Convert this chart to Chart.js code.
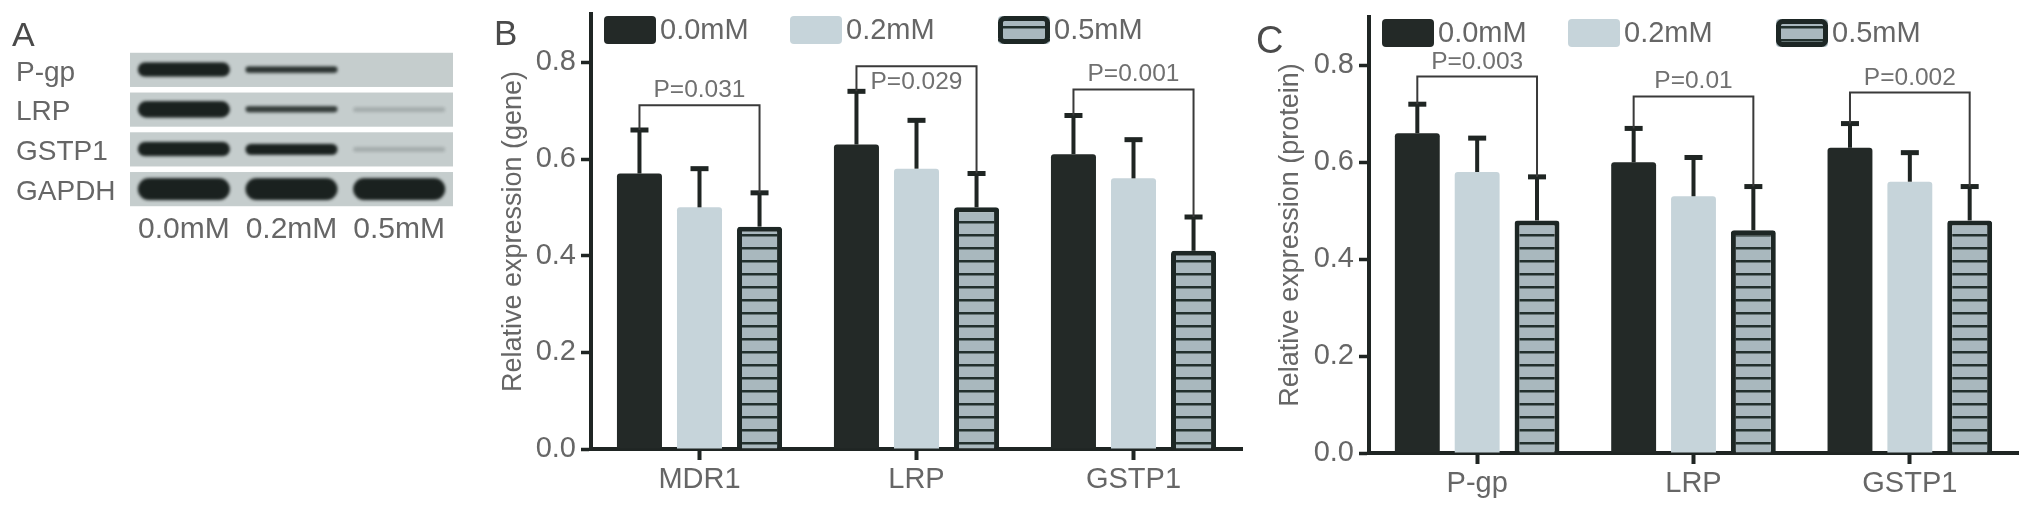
<!DOCTYPE html>
<html>
<head>
<meta charset="utf-8">
<title>Relative expression of MDR1 / P-gp, LRP and GSTP1</title>
<script src="https://cdn.jsdelivr.net/npm/chart.js@4.4.1/dist/chart.umd.min.js"></script>
<style>
    html, body { margin: 0; padding: 0; background: #fff; }
    body { width: 2031px; height: 508px; position: relative; overflow: hidden; font-family: "Liberation Sans", Arial, sans-serif; }
    .panel { position: absolute; top: 0; }
    .letter { position: absolute; color: #4a4a4a; line-height: 1; }
</style>
</head>
<body>
<div class="panel" style="left:0; width:470px; height:260px;"><canvas id="blotChart"></canvas></div>
<div class="panel" style="left:470px; width:780px; height:508px;"><canvas id="geneChart"></canvas></div>
<div class="panel" style="left:1250px; width:781px; height:508px;"><canvas id="proteinChart"></canvas></div>
<div class="letter" style="left:12px; top:17px; font-size:34px;">A</div>
<div class="letter" style="left:494px; top:15px; font-size:35px;">B</div>
<div class="letter" style="left:1256px; top:21px; font-size:38px;">C</div>

<script>
// ---- data ----
const doses = ['0.0mM', '0.2mM', '0.5mM'];

// panel A: western blot, band strength per lane (0 = no band)
const blotRows = ['P-gp', 'LRP', 'GSTP1', 'GAPDH'];
const bandPgp = [0.65, 0.3, 0];
const bandLrp = [0.75, 0.28, 0.06];
const bandGstp1 = [0.65, 0.5, 0.06];
const bandGapdh = [1, 1, 1];

// panel B: mRNA
const geneLabels = ['MDR1', 'LRP', 'GSTP1'];
const gene00 = [0.57, 0.63, 0.61];
const gene02 = [0.50, 0.58, 0.56];
const gene05 = [0.46, 0.50, 0.41];
const gene00Sd = [0.09, 0.11, 0.08];
const gene02Sd = [0.08, 0.10, 0.08];
const gene05Sd = [0.07, 0.07, 0.07];
const geneP = ['P=0.031', 'P=0.029', 'P=0.001'];
const geneBracket = [0.711, 0.792, 0.744];

// panel C: protein
const proteinLabels = ['P-gp', 'LRP', 'GSTP1'];
const protein00 = [0.66, 0.60, 0.63];
const protein02 = [0.58, 0.53, 0.56];
const protein05 = [0.48, 0.46, 0.48];
const protein00Sd = [0.06, 0.07, 0.05];
const protein02Sd = [0.07, 0.08, 0.06];
const protein05Sd = [0.09, 0.09, 0.07];
const proteinP = ['P=0.003', 'P=0.01', 'P=0.002'];
const proteinBracket = [0.777, 0.736, 0.744];

const yTicks = [0, 0.2, 0.4, 0.6, 0.8];
const yMax = 0.9;

const FONT = '"Liberation Sans", Arial, sans-serif';
const TEXT = '#666';
const INK = '#1f2523';

Chart.defaults.font.family = FONT;

// ---- plugins ----
const blotStrips = {
    id: 'blotStrips',
    beforeDatasetsDraw(chart) {
        const { ctx, chartArea, scales: { y } } = chart;
        const half = y.height / blotRows.length * 0.43;
        ctx.save();
        blotRows.forEach((_, i) => {
            const cy = y.getPixelForValue(i);
            ctx.fillStyle = '#c5cdcd';
            ctx.fillRect(chartArea.left, cy - half, chartArea.width, half * 2);
        });
        ctx.restore();
    }
};

const errorBars = {
    id: 'errorBars',
    afterDatasetsDraw(chart) {
        const { ctx, scales: { y } } = chart;
        ctx.save();
        ctx.strokeStyle = INK;
        ctx.fillStyle = INK;
        ctx.lineWidth = 4;
        chart.data.datasets.forEach((ds, di) => {
            chart.getDatasetMeta(di).data.forEach((bar, i) => {
                const top = y.getPixelForValue(ds.data[i] + ds.sd[i]);
                ctx.beginPath();
                ctx.moveTo(bar.x, bar.y);
                ctx.lineTo(bar.x, top);
                ctx.stroke();
                ctx.fillRect(bar.x - 9, top - 2.5, 18, 5);
            });
        });
        ctx.restore();
    }
};

const brackets = {
    id: 'brackets',
    afterDatasetsDraw(chart, args, opts) {
        const { ctx, scales: { x, y } } = chart;
        const first = chart.data.datasets[0];
        const last = chart.data.datasets[2];
        const m0 = chart.getDatasetMeta(0);
        const m2 = chart.getDatasetMeta(2);
        ctx.save();
        ctx.lineWidth = 2;
        ctx.strokeStyle = '#3a3a3a';
        ctx.fillStyle = '#707070';
        ctx.font = '24.5px ' + FONT;
        ctx.textAlign = 'center';
        ctx.textBaseline = 'alphabetic';
        opts.levels.forEach((lvl, i) => {
            const yb = y.getPixelForValue(lvl);
            const xl = m0.data[i].x;
            const xr = m2.data[i].x;
            ctx.beginPath();
            ctx.moveTo(xl, y.getPixelForValue(first.data[i] + first.sd[i]));
            ctx.lineTo(xl, yb);
            ctx.lineTo(xr, yb);
            ctx.lineTo(xr, y.getPixelForValue(last.data[i] + last.sd[i]));
            ctx.stroke();
            const inside = opts.inside && opts.inside[i];
            ctx.fillText(opts.labels[i], x.getPixelForValue(i), inside ? yb + 23 : yb - 8);
        });
        ctx.restore();
    }
};

const boxLegend = {
    id: 'boxLegend',
    afterDraw(chart, args, opts) {
        const { ctx, chartArea } = chart;
        const top = chartArea.top + 2;
        ctx.save();
        ctx.font = '29px ' + FONT;
        ctx.textBaseline = 'middle';
        chart.data.datasets.forEach((ds, i) => {
            const x = chartArea.left + opts.offsets[i];
            ctx.beginPath();
            ctx.roundRect(x, top, 52, 28, 4);
            ctx.fillStyle = ds.backgroundColor;
            ctx.fill();
            if (ds.borderWidth) {
                ctx.beginPath();
                ctx.roundRect(x + 2.5, top + 2.5, 47, 23, 4);
                ctx.lineWidth = ds.borderWidth;
                ctx.strokeStyle = ds.borderColor;
                ctx.stroke();
            }
            ctx.fillStyle = TEXT;
            ctx.fillText(ds.label, x + 56, top + 15);
        });
        ctx.restore();
    }
};

// ---- charts ----
class FigureCharts {
    constructor() {
        this.charts = {};
    }

    init() {
        this.initBlot();
        this.initBars('gene', 'geneChart', 'Relative expression (gene)', geneLabels,
            [gene00, gene02, gene05], [gene00Sd, gene02Sd, gene05Sd],
            { levels: geneBracket, labels: geneP, inside: [false, true, false] },
            { left: 23, right: 8, top: 14, bottom: 0 }, 98, 59);
        this.initBars('protein', 'proteinChart', 'Relative expression (protein)', proteinLabels,
            [protein00, protein02, protein05], [protein00Sd, protein02Sd, protein05Sd],
            { levels: proteinBracket, labels: proteinP },
            { left: 20, right: 13, top: 17, bottom: 0 }, 99, 55);
    }

    bandImage(strength) {
        const w = 92;
        const h = Math.max(5, 22 * strength);
        const c = document.createElement('canvas');
        c.width = w + 12;
        c.height = Math.ceil(h + 12);
        const g = c.getContext('2d');
        if (strength <= 0) return c;
        g.filter = 'blur(1.6px)';
        g.fillStyle = `rgba(26, 33, 31, ${Math.min(1, 3 * strength)})`;
        g.beginPath();
        g.roundRect(6, 6, w, h, h / 2);
        g.fill();
        return c;
    }

    initBlot() {
        const ctx = document.getElementById('blotChart').getContext('2d');
        const rows = [bandPgp, bandLrp, bandGstp1, bandGapdh];
        const points = [];
        rows.forEach((row, r) => {
            row.forEach((v, l) => points.push({ x: doses[l], y: blotRows[r], v }));
        });
        const images = points.map(p => this.bandImage(p.v));

        this.charts.blot = new Chart(ctx, {
            type: 'scatter',
            data: {
                datasets: [{
                    data: points,
                    pointStyle: c => images[c.dataIndex],
                    radius: 3
                }]
            },
            options: {
                responsive: true,
                maintainAspectRatio: false,
                animation: false,
                events: [],
                layout: { padding: { left: 16, right: 17, top: 50, bottom: 0 } },
                plugins: { legend: { display: false }, tooltip: { enabled: false } },
                scales: {
                    x: {
                        type: 'category',
                        labels: doses,
                        offset: true,
                        grid: { display: false, drawTicks: false },
                        border: { display: false },
                        ticks: { color: TEXT, font: { size: 30 }, padding: 3, maxRotation: 0 },
                        afterFit: s => { s.height = 51; s.paddingLeft = 0; s.paddingRight = 0; }
                    },
                    y: {
                        type: 'category',
                        labels: blotRows,
                        offset: true,
                        grid: { display: false, drawTicks: false },
                        border: { display: false },
                        ticks: { color: TEXT, font: { size: 28 }, crossAlign: 'far', labelOffset: 3 },
                        afterFit: s => { s.width = 114; s.paddingTop = 0; s.paddingBottom = 0; }
                    }
                }
            },
            plugins: [blotStrips]
        });
    }

    hatch(ctx) {
        const c = document.createElement('canvas');
        c.width = 13;
        c.height = 13;
        const g = c.getContext('2d');
        g.fillStyle = '#a9b8be';
        g.fillRect(0, 0, 13, 13);
        g.fillStyle = '#22302d';
        g.fillRect(0, 0, 13, 2.5);
        return ctx.createPattern(c, 'repeat');
    }

    initBars(key, canvasId, title, labels, values, sds, bracketOpts, padding, yWidth, xHeight) {
        const ctx = document.getElementById(canvasId).getContext('2d');
        const common = { barPercentage: 0.75, categoryPercentage: 0.83, borderRadius: 3, borderSkipped: 'start' };

        this.charts[key] = new Chart(ctx, {
            type: 'bar',
            data: {
                labels: labels,
                datasets: [
                    { ...common, label: doses[0], data: values[0], sd: sds[0], backgroundColor: '#232927', borderWidth: 0 },
                    { ...common, label: doses[1], data: values[1], sd: sds[1], backgroundColor: '#c6d4da', borderWidth: 0 },
                    { ...common, label: doses[2], data: values[2], sd: sds[2], backgroundColor: this.hatch(ctx), borderColor: '#1d2725', borderWidth: 5 }
                ]
            },
            options: {
                responsive: true,
                maintainAspectRatio: false,
                animation: false,
                events: [],
                layout: { padding: padding },
                plugins: {
                    legend: { display: false },
                    tooltip: { enabled: false },
                    brackets: bracketOpts,
                    boxLegend: { offsets: [13, 199, 407] }
                },
                scales: {
                    x: {
                        grid: { drawOnChartArea: false, drawTicks: true, tickLength: 11, tickWidth: 4, tickColor: INK, offset: false },
                        border: { color: INK, width: 4 },
                        ticks: { color: TEXT, font: { size: 29 }, padding: 3, maxRotation: 0, autoSkip: false },
                        afterFit: s => { s.height = xHeight; s.paddingLeft = 0; s.paddingRight = 0; }
                    },
                    y: {
                        min: 0,
                        max: yMax,
                        grid: { drawOnChartArea: false, drawTicks: true, tickLength: 10, tickWidth: 3.5, tickColor: INK },
                        border: { color: INK, width: 4 },
                        ticks: {
                            color: TEXT,
                            font: { size: 29 },
                            padding: 5,
                            callback: v => v.toFixed(1)
                        },
                        title: { display: true, text: title, color: TEXT, font: { size: 27 }, padding: { top: 4, bottom: 4 } },
                        afterBuildTicks: s => { s.ticks = yTicks.map(v => ({ value: v })); },
                        afterFit: s => { s.width = yWidth; s.paddingTop = 0; s.paddingBottom = 0; }
                    }
                }
            },
            plugins: [errorBars, brackets, boxLegend]
        });
    }
}

const figure = new FigureCharts();
figure.init();
</script>
</body>
</html>
